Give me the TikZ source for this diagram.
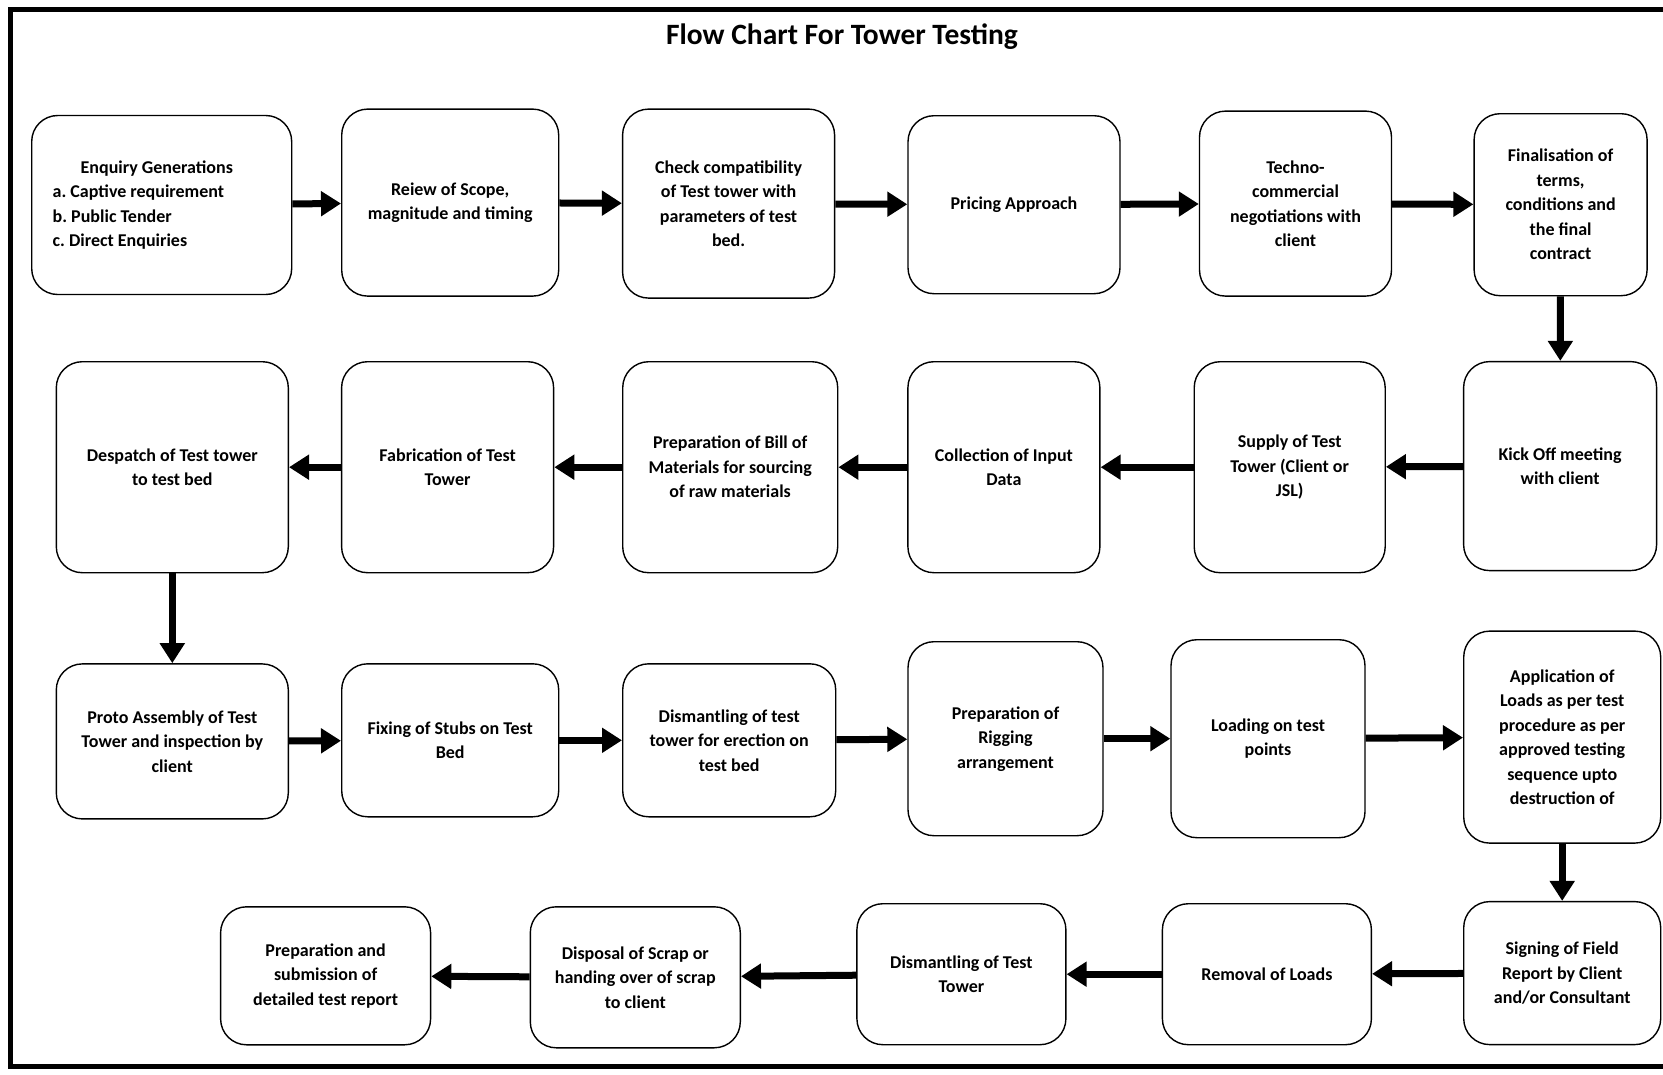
\documentclass[tikz,border=0pt]{standalone}
\usepackage{fontspec}
\setmainfont{Carlito}
\usetikzlibrary{arrows.meta}
\frenchspacing

\tikzset{
	stepbox/.style={draw=black, line width=1.4pt, rounded corners=26pt,
		align=center, inner sep=4pt, font=\bfseries\fontsize{18}{24.5}\selectfont},
	flow/.style={line width=7pt, -{Triangle[length=20pt, width=24pt]}}
}

% name, x, y, width, height, text
\newcommand{\flowbox}[6]{
	\node[stepbox, minimum width=#4pt, minimum height=#5pt] (#1) at (#2, #3) {#6};
}

\begin{document}
\begin{tikzpicture}[x=1pt, y=-1pt]
		\useasboundingbox (0,0) rectangle (1663,1074);
		\clip (0,0) rectangle (1663,1074);

		% frame and title
		\draw[line width=5pt] (1700, 9) -- (10.5, 9) -- (10.5, 1066) -- (1700, 1066);
		\node (title) at (842, 37) {\bfseries\fontsize{29.5}{32}\selectfont Flow Chart For Tower Testing};

		%% first row
		\node[stepbox, minimum width=260pt, minimum height=179pt, align=flush left, text width=218pt]
			(enquiry) at (161.7, 205)
			{\hspace*{28pt}Enquiry Generations\\ a. Captive requirement\\ b. Public Tender\\ c. Direct Enquiries};
		\flowbox{scope}{450.2}{202.6}{217}{187}{Reiew of Scope,\\ magnitude and timing}
		\flowbox{check}{728.6}{203.6}{212}{189}{Check compatibility\\ of Test tower with\\ parameters of test\\ bed.}
		\flowbox{pricing}{1014}{204.7}{212}{178}{Pricing Approach}
		\flowbox{techno}{1295.5}{203.6}{192}{185}{Techno-\\ commercial\\ negotiations with\\ client}
		\flowbox{contract}{1560.6}{204.7}{173}{182}{Finalisation of\\ terms,\\ conditions and\\ the final\\ contract}

		%% second row
		\flowbox{kickoff}{1560.1}{466.1}{193}{209}{Kick Off meeting\\ with client}
		\flowbox{supply}{1289.7}{467.2}{191}{211}{Supply of Test\\ Tower (Client or\\ JSL)}
		\flowbox{input}{1003.9}{467.2}{192}{211}{Collection of Input\\ Data}
		\flowbox{bom}{730.2}{467.2}{215}{211}{Preparation of Bill of\\ Materials for sourcing\\ of raw materials}
		\flowbox{fabrication}{447.6}{467.2}{212}{211}{Fabrication of Test\\ Tower}
		\flowbox{despatch}{172.3}{467.2}{232}{211}{Despatch of Test tower\\ to test bed}

		%% third row
		\flowbox{proto}{172.3}{741.4}{232}{155}{Proto Assembly of Test\\ Tower and inspection by\\ client}
		\flowbox{stubs}{450.2}{740.3}{217}{153}{Fixing of Stubs on Test\\ Bed}
		\flowbox{erection}{729.2}{740.3}{213}{153}{Dismantling of test\\ tower for erection on\\ test bed}
		\flowbox{rigging}{1005.5}{738.7}{195}{194}{Preparation of\\ Rigging\\ arrangement}
		\flowbox{loading}{1268}{738.7}{194}{198}{Loading on test\\ points}
		\flowbox{loads}{1562.2}{737.1}{197}{212}{Application of\\ Loads as per test\\ procedure as per\\ approved testing\\ sequence upto\\ destruction of}

		%% fourth row
		\flowbox{signing}{1562.2}{973.1}{197}{143}{Signing of Field\\ Report by Client\\ and/or Consultant}
		\flowbox{removal}{1266.9}{974.2}{209}{141}{Removal of Loads}
		\flowbox{dismantle}{961.4}{974.2}{209}{141}{Dismantling of Test\\ Tower}
		\flowbox{scrap}{635.3}{977.3}{210}{141}{Disposal of Scrap or\\ handing over of scrap\\ to client}
		\flowbox{report}{325.6}{975.8}{210}{138}{Preparation and\\ submission of\\ detailed test report}

		% arrows
		\draw[flow] (enquiry) -- (scope);
		\draw[flow] (scope) -- (check);
		\draw[flow] (check) -- (pricing);
		\draw[flow] (pricing) -- (techno);
		\draw[flow] (techno) -- (contract);
		\draw[flow] (contract) -- (kickoff);
		\draw[flow] (kickoff) -- (supply);
		\draw[flow] (supply) -- (input);
		\draw[flow] (input) -- (bom);
		\draw[flow] (bom) -- (fabrication);
		\draw[flow] (fabrication) -- (despatch);
		\draw[flow] (despatch) -- (proto);
		\draw[flow] (proto) -- (stubs);
		\draw[flow] (stubs) -- (erection);
		\draw[flow] (erection) -- (rigging);
		\draw[flow] (rigging) -- (loading);
		\draw[flow] (loading) -- (loads);
		\draw[flow] (loads) -- (signing);
		\draw[flow] (signing) -- (removal);
		\draw[flow] (removal) -- (dismantle);
		\draw[flow] (dismantle) -- (scrap);
		\draw[flow] (scrap) -- (report);
	\end{tikzpicture}
\end{document}
